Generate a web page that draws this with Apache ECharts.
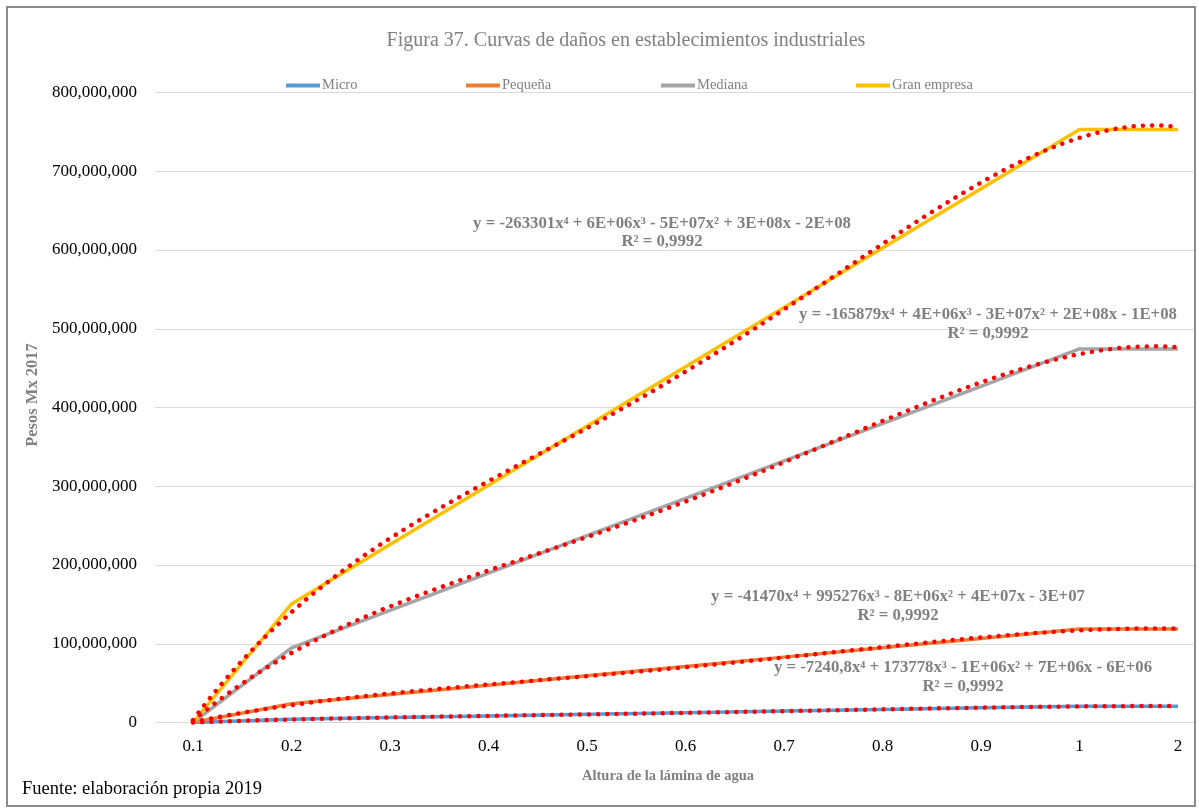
<!DOCTYPE html>
<html>
<head>
<meta charset="utf-8">
<script src="https://cdn.jsdelivr.net/npm/echarts@6/dist/echarts.min.js"></script>
<style>
  html, body { margin: 0; padding: 0; background: #ffffff; }
  #chart { width: 1199px; height: 810px; }
</style>
</head>
<body>
<div id="chart"></div>
<script>
// Water depth categories (m)
const categories = ['0.1', '0.2', '0.3', '0.4', '0.5', '0.6', '0.7', '0.8', '0.9', '1', '2'];

// Damage in Mexican pesos (2017) by establishment size
const micro   = [0, 4140000, 6210000, 8280000, 10350000, 12420000, 14490000, 16560000, 18630000, 20700000, 20700000];
const pequena = [0, 23720000, 35580000, 47440000, 59300000, 71160000, 83020000, 94880000, 106740000, 118600000, 118600000];
const mediana = [0, 94880000, 142320000, 189760000, 237200000, 284640000, 332080000, 379520000, 426960000, 474400000, 474400000];
const gran    = [0, 150600000, 225900000, 301200000, 376500000, 451800000, 527100000, 602400000, 677700000, 753000000, 753000000];

const seriesNames = ['Micro', 'Pequeña', 'Mediana', 'Gran empresa'];

// Trendline equation labels (4th-order polynomial fits)
const eqMicro   = 'y = -7240,8x⁴ + 173778x³ - 1E+06x² + 7E+06x - 6E+06';
const eqPequena = 'y = -41470x⁴ + 995276x³ - 8E+06x² + 4E+07x - 3E+07';
const eqMediana = 'y = -165879x⁴ + 4E+06x³ - 3E+07x² + 2E+08x - 1E+08';
const eqGran    = 'y = -263301x⁴ + 6E+06x³ - 5E+07x² + 3E+08x - 2E+08';
const r2Label   = 'R² = 0,9992';

const SERIF = '"Liberation Serif", "DejaVu Serif", serif';
const GRAY = '#808080';

// Least-squares polynomial fit over x = 1..n (category index), degree d
function polyFit(ys, d) {
  const m = d + 1;
  const A = [];
  for (let r = 0; r < m; r++) A.push(new Array(m + 1).fill(0));
  ys.forEach((y, i) => {
    const x = i + 1;
    for (let r = 0; r < m; r++) {
      for (let c = 0; c < m; c++) A[r][c] += Math.pow(x, r + c);
      A[r][m] += y * Math.pow(x, r);
    }
  });
  for (let col = 0; col < m; col++) {
    let piv = col;
    for (let r = col + 1; r < m; r++) if (Math.abs(A[r][col]) > Math.abs(A[piv][col])) piv = r;
    [A[col], A[piv]] = [A[piv], A[col]];
    for (let r = 0; r < m; r++) {
      if (r === col) continue;
      const f = A[r][col] / A[col][col];
      for (let c = col; c <= m; c++) A[r][c] -= f * A[col][c];
    }
  }
  return A.map((row, i) => row[m] / row[i]);
}

function trendPoints(ys) {
  const coef = polyFit(ys, 4);
  const pts = [];
  const n = ys.length;
  for (let k = 0; k <= (n - 1) * 20; k++) {
    const x = 1 + k / 20;
    let y = 0;
    for (let p = coef.length - 1; p >= 0; p--) y = y * x + coef[p];
    pts.push([x, y]);
  }
  return pts;
}

const colors = ['#5B9BD5', '#ED7D31', '#A5A5A5', '#FFC000'];
const dataSets = [micro, pequena, mediana, gran];

const lineSeries = dataSets.map((d, i) => ({
  name: seriesNames[i],
  type: 'line',
  xAxisIndex: 1,
  yAxisIndex: 1,
  data: d,
  showSymbol: false,
  symbol: 'none',
  color: colors[i],
  lineStyle: { width: 3.5, color: colors[i], join: 'round' },
  z: 2 + i
}));

const trendSeries = dataSets.map((d, i) => ({
  name: 'Polinómica (' + seriesNames[i] + ')',
  type: 'line',
  xAxisIndex: 2,
  yAxisIndex: 1,
  data: trendPoints(d),
  showSymbol: false,
  symbol: 'none',
  clip: false,
  lineStyle: { width: 4.5, color: '#FF0000', type: [0.01, 9.2], cap: 'round' },
  z: 10
}));

const legendLefts = [281, 461, 656, 851];

const eqStyle = { align: 'center', verticalAlign: 'middle', fontFamily: SERIF, fontSize: 16.75, fontWeight: 'bold', fill: GRAY };

const chart = echarts.init(document.getElementById('chart'), null, { renderer: 'canvas' });
chart.setOption({
  animation: false,
  backgroundColor: '#ffffff',
  title: {
    text: 'Figura 37. Curvas de daños en establecimientos industriales',
    left: 621,
    top: 26,
    textAlign: 'center',
    textStyle: { fontFamily: SERIF, fontSize: 20, fontWeight: 'normal', color: GRAY }
  },
  legend: seriesNames.map((nm, i) => ({
    data: [nm],
    left: legendLefts[i],
    top: 73,
    icon: 'rect',
    itemWidth: 34,
    itemHeight: 4,
    itemGap: 2,
    selectedMode: false,
    textStyle: { fontFamily: SERIF, fontSize: 14.5, color: GRAY, padding: [0, 0, 0, -3] }
  })),
  grid: [
    { left: 155, right: 5, top: 92.5, height: 630 },
    { left: 193, right: 21, top: 92.5, height: 630 }
  ],
  xAxis: [
    { gridIndex: 0, type: 'value', min: 0, max: 1, show: false },
    {
      gridIndex: 1, type: 'category', data: categories, boundaryGap: false,
      axisLine: { show: false }, axisTick: { show: false }, splitLine: { show: false },
      axisLabel: { margin: 16, fontFamily: SERIF, fontSize: 17, color: '#000000' }
    },
    { gridIndex: 1, type: 'value', min: 1, max: 11, show: false }
  ],
  yAxis: [
    {
      gridIndex: 0, type: 'value', min: 0, max: 800000000, interval: 100000000,
      axisLine: { show: false }, axisTick: { show: false },
      splitLine: { lineStyle: { color: '#d9d9d9', width: 1.2 } },
      axisLabel: {
        margin: 18, fontFamily: SERIF, fontSize: 17, color: '#000000',
        formatter: v => v.toLocaleString('en-US')
      }
    },
    { gridIndex: 1, type: 'value', min: 0, max: 800000000, show: false }
  ],
  series: lineSeries.concat(trendSeries),
  graphic: [
    { type: 'rect', shape: { x: 7, y: 7, width: 1188, height: 799 }, style: { fill: 'none', stroke: '#8c8c8c', lineWidth: 2 }, z: 100 },
    { type: 'text', x: 33, y: 395, rotation: Math.PI / 2,
      style: { text: 'Pesos Mx 2017', align: 'center', verticalAlign: 'middle', fontFamily: SERIF, fontSize: 16.5, fontWeight: 'bold', fill: GRAY } },
    { type: 'text', x: 668, y: 776,
      style: { text: 'Altura de la lámina de agua', align: 'center', verticalAlign: 'middle', fontFamily: SERIF, fontSize: 14.5, fontWeight: 'bold', fill: GRAY } },
    { type: 'text', x: 22, y: 789,
      style: { text: 'Fuente: elaboración propia 2019', align: 'left', verticalAlign: 'middle', fontFamily: SERIF, fontSize: 18.5, fill: '#000000' } },

    { type: 'text', x: 662, y: 224, style: Object.assign({ text: eqGran }, eqStyle), z: 50 },
    { type: 'text', x: 662, y: 242, style: Object.assign({ text: r2Label }, eqStyle), z: 50 },
    { type: 'text', x: 988, y: 315, style: Object.assign({ text: eqMediana }, eqStyle), z: 50 },
    { type: 'text', x: 988, y: 334, style: Object.assign({ text: r2Label }, eqStyle), z: 50 },
    { type: 'text', x: 898, y: 597, style: Object.assign({ text: eqPequena }, eqStyle), z: 50 },
    { type: 'text', x: 898, y: 616, style: Object.assign({ text: r2Label }, eqStyle), z: 50 },
    { type: 'text', x: 963, y: 668, style: Object.assign({ text: eqMicro }, eqStyle), z: 50 },
    { type: 'text', x: 963, y: 687, style: Object.assign({ text: r2Label }, eqStyle), z: 50 }
  ]
});
</script>
</body>
</html>
